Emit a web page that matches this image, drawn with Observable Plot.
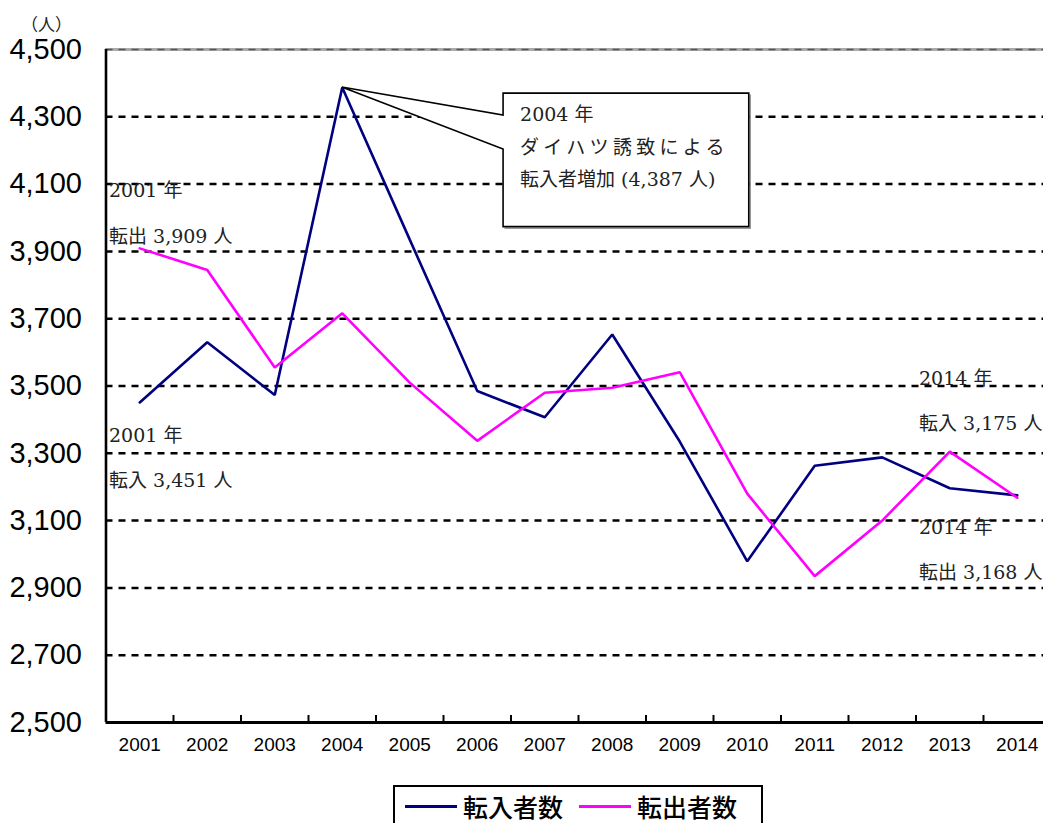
<!DOCTYPE html>
<html><head><meta charset="utf-8">
<script src="https://cdn.jsdelivr.net/npm/d3@7"></script>
<script src="https://cdn.jsdelivr.net/npm/@observablehq/plot@0.6"></script>
<style>
html,body{margin:0;padding:0;background:#fff;overflow:hidden;width:1043px;height:823px;}
#chart{position:relative;width:1043px;height:823px;overflow:hidden;}
#chart svg{position:absolute;left:0;top:0;overflow:visible;max-width:none !important;width:1051px !important;height:780px !important;}
.legend{position:absolute;left:393px;top:785px;width:370px;height:42px;border:2px solid #000;box-sizing:border-box;background:#fff;
  display:flex;align-items:center;padding-left:10px;font-family:"Noto Sans CJK JP",sans-serif;font-size:25px;font-weight:500;color:#000;line-height:1;}
.legend .item{display:flex;align-items:center;margin-right:16px;line-height:1;}
.legend .sw{display:inline-block;width:52px;height:3px;margin-right:6px;}
.legend .tx{line-height:1;display:inline-block;height:25px;}
</style></head>
<body><div id="chart"></div>
<script>
// ---- data ----
const years = [2001,2002,2003,2004,2005,2006,2007,2008,2009,2010,2011,2012,2013,2014];
const inflow  = [3451,3630,3473,4387,3935,3485,3407,3653,3335,2979,3263,3288,3196,3175]; // 転入者数
const outflow = [3909,3845,3555,3716,3510,3337,3480,3495,3541,3180,2935,3100,3305,3168]; // 転出者数
const seriesNames  = ["転入者数","転出者数"];
const seriesColors = ["#000080","#ff00ff"];
const yTicks = [2500,2700,2900,3100,3300,3500,3700,3900,4100,4300,4500];
const unitLabel = "（人）";
const noteX = [2000.5, 2000.5, 2000.5, 2000.5, 2012.5, 2012.5, 2012.5, 2012.5];
const noteY = [4079, 3942, 3352, 3218, 3521, 3387, 3079, 2945];
const noteText = ["2001 年","転出 3,909 人","2001 年","転入 3,451 人","2014 年","転入 3,175 人","2014 年","転出 3,168 人"];
const calloutAnchor = {year: 2004, value: 4387};
const calloutBox = {x1: 2006.39, x2: 2010.03, y1: 4369, y2: 3972, p1: 4304, p2: 4203};
const calloutLines = ["2004 年","ダイハツ誘致による","転入者増加 (4,387 人)"];

const rows = years.flatMap((yr,i)=>[
  {year: yr, value: inflow[i],  series: seriesNames[0]},
  {year: yr, value: outflow[i], series: seriesNames[1]}
]);
const bounds = years.slice(0,-1).map(y=>y+0.5);
const notes = noteText.map((t,i)=>({x: noteX[i], y: noteY[i], text: t}));
const serif = "'DejaVu Serif','Liberation Serif','Noto Sans CJK JP',serif";

function calloutMark(index, scales, values, dimensions, context) {
  const x = scales.x, y = scales.y;
  const ax = x(calloutAnchor.year), ay = y(calloutAnchor.value);
  const bx1 = x(calloutBox.x1), bx2 = x(calloutBox.x2), by1 = y(calloutBox.y1), by2 = y(calloutBox.y2);
  const p1 = y(calloutBox.p1), p2 = y(calloutBox.p2);
  const g = d3.create("svg:g");
  g.append("path")
    .attr("d", `M${bx1+1.5},${by2+1.5}L${bx2+1.5},${by2+1.5}L${bx2+1.5},${by1+1.5}`)
    .attr("fill", "none").attr("stroke", "#999").attr("stroke-width", 1.5);
  g.append("path")
    .attr("d", `M${bx1},${by1}L${bx2},${by1}L${bx2},${by2}L${bx1},${by2}L${bx1},${p2}L${ax},${ay}L${bx1},${p1}Z`)
    .attr("fill", "#fff").attr("stroke", "#000").attr("stroke-width", 1.6).attr("stroke-linejoin","miter");
  const ys = [by1 + 21, by1 + 54, by1 + 86];
  calloutLines.forEach((t,i)=>{
    g.append("text").attr("x", bx1 + 17).attr("y", ys[i]).attr("dy","0.35em")
      .attr("text-anchor", "start")
      .attr("font-family", serif).attr("font-size", 19).attr("fill", "#222")
      .attr("letter-spacing", i===1 ? "4.3px" : "0")
      .text(t);
  });
  return g.node();
}

const chart = Plot.plot({
  width: 1051, height: 780,
  marginLeft: 105.5, marginRight: 0.5, marginTop: 49, marginBottom: 58,
  style: {background: "transparent", overflow: "visible"},
  x: {type: "linear", domain: [2000.5, 2014.5], axis: null},
  y: {domain: [2500, 4500], axis: null},
  color: {domain: seriesNames, range: seriesColors},
  marks: [
    Plot.ruleY([4500], {stroke: "#aaa", strokeWidth: 3}),
    Plot.ruleY(yTicks.filter(t=>t>2500 && t<4500), {stroke: "#000", strokeWidth: 2.5, strokeDasharray: "7,6"}),
    Plot.ruleY([4500], {stroke: "#555", strokeWidth: 1.5, strokeDasharray: "7,6"}),
    Plot.ruleX(bounds, {insetTop: 666, stroke: "#000", strokeWidth: 2}),
    Plot.ruleX([2000.5], {stroke: "#000", strokeWidth: 2.6}),
    Plot.ruleY([2500], {stroke: "#000", strokeWidth: 3}),
    Plot.text(yTicks, {y: d=>d, frameAnchor: "left", dx: -24, textAnchor: "end", text: d=>d3.format(",")(d),
      fontSize: 29, fontFamily: "'Liberation Sans',Arial,sans-serif", fill: "#000"}),
    Plot.text(years, {x: d=>d, frameAnchor: "bottom", dy: 28, text: d=>String(d),
      fontSize: 19, fontFamily: "'Liberation Sans',Arial,sans-serif", fill: "#000"}),
    Plot.text([unitLabel], {frameAnchor: "top-left", dx: -85, dy: -31, text: d=>d, textAnchor: "start",
      fontSize: 17, fontFamily: serif, fill: "#222"}),
    Plot.line(rows, {x: "year", y: "value", z: "series", stroke: "series", strokeWidth: 2.6, strokeLinejoin: "miter"}),
    Plot.text(notes, {x: "x", y: "y", text: "text", dx: 3, textAnchor: "start", fontSize: 19, fontFamily: serif, fill: "#222"}),
    calloutMark
  ]
});
const host = document.getElementById("chart");
host.appendChild(chart);
const leg = document.createElement("div");
leg.className = "legend";
seriesNames.forEach((n,i)=>{
  const it = document.createElement("div"); it.className = "item";
  const sw = document.createElement("span"); sw.className = "sw"; sw.style.background = seriesColors[i];
  const tx = document.createElement("span"); tx.className = "tx"; tx.textContent = n;
  it.appendChild(sw); it.appendChild(tx); leg.appendChild(it);
});
host.appendChild(leg);
</script>
</body></html>
